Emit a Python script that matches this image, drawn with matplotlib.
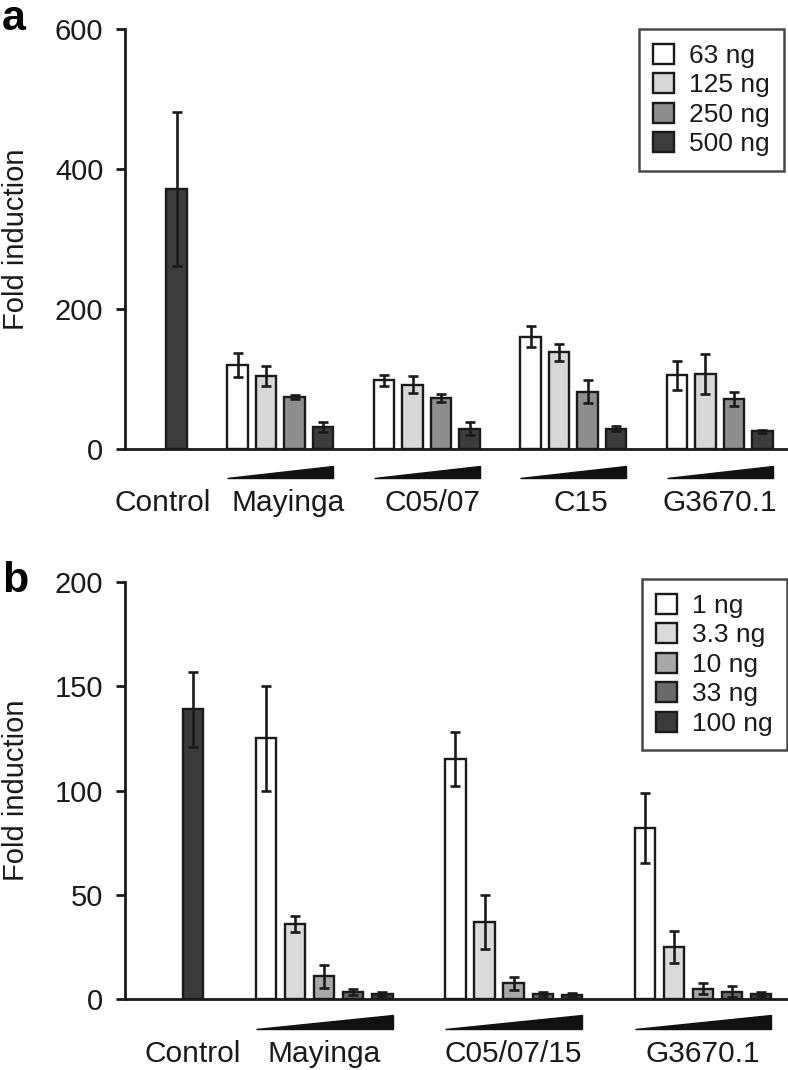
import matplotlib
matplotlib.use('Agg')
import matplotlib.pyplot as plt
from matplotlib.patches import Polygon, Patch

plt.rcParams['font.family'] = ['Liberation Sans', 'DejaVu Sans']

# panel a data
doses_a = ['63 ng', '125 ng', '250 ng', '500 ng']
colors_a = ['#ffffff', '#d8d8d8', '#8e8e8e', '#3c3c3c']
control_a = 371
control_a_err = 110
groups_a = ['Mayinga', 'C05/07', 'C15', 'G3670.1']
means_a = [
    [120, 104, 74, 31],
    [98, 92, 73, 29],
    [160, 138, 82, 29],
    [105, 107, 72, 25],
]
errs_a = [
    [17, 14, 3, 7],
    [8, 12, 6, 9],
    [15, 12, 16, 4],
    [21, 28, 10, 2],
]
yticks_a = [0, 200, 400, 600]

# panel b data
doses_b = ['1 ng', '3.3 ng', '10 ng', '33 ng', '100 ng']
colors_b = ['#ffffff', '#dadada', '#a8a8a8', '#6a6a6a', '#3a3a3a']
control_b = 139
control_b_err = 18
groups_b = ['Mayinga', 'C05/07/15', 'G3670.1']
means_b = [
    [125, 36, 11, 3.5, 2.5],
    [115, 37, 7.5, 2.5, 2],
    [82, 25, 5, 3.5, 2.5],
]
errs_b = [
    [25, 4, 5.5, 1.5, 1],
    [13, 13, 3, 1, 0.8],
    [17, 7.5, 2.5, 2.5, 1],
]
yticks_b = [0, 50, 100, 150, 200]

fig = plt.figure(figsize=(7.88, 10.70), dpi=100)
W, H = 788, 1070

LW = 1.7
ERR = dict(ecolor='#1a1a1a', elinewidth=1.9, capsize=3.8, capthick=1.9)


def draw_panel(ax, means, errs, colors, ctrl, ctrl_err, ymax, yticks,
               ctrl_x, x0, step, width, xmax, wedge, label_off):
    ax.bar(ctrl_x, ctrl, width=width, color=colors[-1], edgecolor='#1a1a1a',
           linewidth=LW, yerr=ctrl_err, error_kw=ERR)
    label_x = [ctrl_x]
    for g, (m, e) in enumerate(zip(means, errs)):
        xs = [x0 + g * step + i for i in range(len(m))]
        ax.bar(xs, m, width=width, color=colors, edgecolor='#1a1a1a',
               linewidth=LW, yerr=e, error_kw=ERR)
        left = xs[0] - width / 2
        right = xs[-1] + width / 2
        tri = Polygon([(left, wedge[0]), (right, wedge[0]), (right, wedge[1])],
                      closed=True, color='#111111', clip_on=False)
        ax.add_patch(tri)
        label_x.append((xs[0] + xs[-1]) / 2)
    ax.set_xlim(0, xmax)
    ax.set_ylim(0, ymax)
    ax.set_yticks(yticks)
    ax.set_xticks([])
    ax.tick_params(axis='y', direction='out', length=6.5, width=2,
                   labelsize=21, pad=9, colors='#1a1a1a')
    for s in ['top', 'right']:
        ax.spines[s].set_visible(False)
    for s in ['left', 'bottom']:
        ax.spines[s].set_linewidth(2)
        ax.spines[s].set_color('#1a1a1a')
    ax.set_ylabel('Fold induction', fontsize=21, color='#1a1a1a')
    ax.yaxis.set_label_coords(-0.144, 0.5)
    return [x + o for x, o in zip(label_x, label_off)]


def add_legend(ax, colors, labels, anchor):
    handles = [Patch(facecolor=c, edgecolor='#1a1a1a', linewidth=LW) for c in colors]
    leg = ax.legend(handles, labels, loc='upper right',
                    bbox_to_anchor=anchor, bbox_transform=fig.transFigure,
                    borderaxespad=0, fontsize=19, frameon=True, fancybox=False,
                    handlelength=0.8, handleheight=0.8, handletextpad=0.55,
                    labelspacing=0.2, borderpad=0.55)
    leg.get_frame().set_edgecolor('#1a1a1a')
    leg.get_frame().set_linewidth(1.8)
    for t in leg.get_texts():
        t.set_color('#1a1a1a')


# panel a
ax1 = fig.add_axes([125 / W, 1 - 449 / H, 662 / W, 420 / H])
lx = draw_panel(ax1, means_a, errs_a, colors_a, control_a, control_a_err,
                600, yticks_a, 1.81, 3.95, 5.14, 0.72, 23.23, (-41.4, -24.3),
                [-0.47, 0.26, 0.21, 0.26, 0.0])
for x, t in zip(lx, ['Control'] + groups_a):
    ax1.annotate(t, xy=(x, 0), xycoords=('data', 'axes fraction'),
                 xytext=(0, -45), textcoords='offset points',
                 ha='center', va='baseline', fontsize=21.5, color='#1a1a1a')
add_legend(ax1, colors_a, doses_a, (784 / W, 1 - 29 / H))

# panel b
ax2 = fig.add_axes([125 / W, 1 - 999 / H, 662 / W, 417 / H])
lx = draw_panel(ax2, means_b, errs_b, colors_b, control_b, control_b_err,
                200, yticks_b, 2.34, 4.845, 6.51, 0.70, 22.75, (-14.4, -7.7),
                [0, 0, 0, 0])
for x, t in zip(lx, ['Control'] + groups_b):
    ax2.annotate(t, xy=(x, 0), xycoords=('data', 'axes fraction'),
                 xytext=(0, -45), textcoords='offset points',
                 ha='center', va='baseline', fontsize=21.5, color='#1a1a1a')
add_legend(ax2, colors_b, doses_b, (787 / W, 1 - 579 / H))

fig.text(2 / W, 1 - 30 / H, 'a', fontsize=31, fontweight='bold', ha='left', va='baseline')
fig.text(2 / W, 1 - 592 / H, 'b', fontsize=31, fontweight='bold', ha='left', va='baseline')

fig.savefig('out.png', dpi=100)
